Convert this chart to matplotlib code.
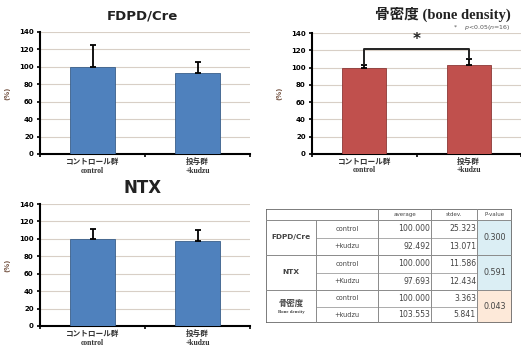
import matplotlib
matplotlib.use('Agg')
import matplotlib.pyplot as plt
from matplotlib.patches import Rectangle

plt.rcParams['font.family'] = ['DejaVu Sans', 'Noto Sans CJK JP']

# data
groups_jp = ['コントロール群', '投与群']
groups_en = ['control', '+kudzu']
fdpd_mean = [100.000, 92.492]
fdpd_sd = [25.323, 13.071]
ntx_mean = [100.000, 97.693]
ntx_sd = [11.586, 12.434]
bone_mean = [100.000, 103.553]
bone_sd = [3.363, 5.841]
p_values = [0.300, 0.591, 0.043]
table_groups = ['FDPD/Cre', 'NTX', '骨密度']
table_sub = [['control', '+kudzu'], ['control', '+Kudzu'], ['control', '+kudzu']]
yticks = [0, 20, 40, 60, 80, 100, 120, 140]

BLUE = '#4f81bd'
RED = '#c0504d'
JP = ['Noto Sans CJK JP']
SERIF = ['Liberation Serif', 'Noto Sans CJK JP']

fig = plt.figure(figsize=(5.21, 3.47), dpi=100)
W, H = 521, 347


def px_axes(l, t, r, b):
    return fig.add_axes([l / W, 1 - b / H, (r - l) / W, (b - t) / H])


def bar_panel(ax, means, sds, color, en_labels):
    x = range(len(means))
    ax.bar(x, means, width=0.42, color=color, edgecolor='#3a5f8a' if color == BLUE else '#8c3836',
           linewidth=0.6, zorder=3)
    ax.errorbar(x, means, yerr=[[0] * len(sds), sds], fmt='none', ecolor='black',
                elinewidth=1.3, capsize=2.5, capthick=1.3, zorder=4)
    ax.set_xlim(-0.5, 1.5)
    ax.set_ylim(0, 140)
    ax.set_yticks(yticks)
    ax.set_yticklabels([str(v) for v in yticks], fontsize=5, fontweight='bold', color='#333333')
    ax.yaxis.grid(True, color='#d8cfc6', linewidth=0.8, zorder=0)
    ax.set_xticks([-0.5, 0.5, 1.5])
    ax.set_xticklabels([])
    ax.tick_params(axis='both', direction='out', length=2.5, width=1.2, colors='black', pad=2)
    for s in ['top', 'right']:
        ax.spines[s].set_visible(False)
    for s in ['left', 'bottom']:
        ax.spines[s].set_linewidth(1.5)
    ax.set_ylabel('(%)', fontsize=5, color='#7a5a4a', fontweight='bold', labelpad=6)
    for i in x:
        ax.text(i, -9, groups_jp[i], ha='center', va='center', fontsize=5.5,
                family=JP, fontweight='bold', color='#333333', clip_on=False)
        ax.text(i, -19, en_labels[i], ha='center', va='center', fontsize=5.5,
                family=SERIF, fontweight='bold', color='#333333', clip_on=False)


ax1 = px_axes(40, 32, 250, 154)
bar_panel(ax1, fdpd_mean, fdpd_sd, BLUE, groups_en)
fig.text(142 / W, 1 - 16 / H, 'FDPD/Cre', ha='center', va='center', fontsize=9.5,
         fontweight='bold', color='#222222')

ax2 = px_axes(312, 33, 521, 154)
bar_panel(ax2, bone_mean, bone_sd, RED, groups_en)
fig.text(443 / W, 1 - 14 / H, '骨密度 (bone density)', ha='center', va='center', fontsize=10.5,
         fontweight='bold', family=SERIF, color='#222222')
fig.text(453 / W, 1 - 27 / H, '*    $p$<0.05($n$=16)', ha='left', va='center', fontsize=4.5,
         color='#555555')
# significance bracket
ax2.plot([0, 0, 1, 1], [bone_mean[0] + bone_sd[0] + 1, 121.5, 121.5, bone_mean[1] + bone_sd[1] + 2],
         color='#222222', linewidth=1.4, zorder=5)
ax2.text(0.5, 124, '*', ha='center', va='bottom', fontsize=11, fontweight='bold', color='#222222')

ax3 = px_axes(40, 204, 250, 326)
bar_panel(ax3, ntx_mean, ntx_sd, BLUE, ['control', '+kudzu'])
fig.text(143 / W, 1 - 188 / H, 'NTX', ha='center', va='center', fontsize=12,
         fontweight='bold', color='#222222')

# summary table
tax = px_axes(266, 209, 512, 323)
tax.set_xlim(0, 246)
tax.set_ylim(114, 0)
tax.axis('off')
col_edges = [0, 50, 112, 165, 211, 246]
row_edges = [0, 11, 28.5, 46, 63.5, 81, 97.5, 114]
tc = '#444444'
lc = '#8a8a8a'
fs = 4.8

all_means = [fdpd_mean, ntx_mean, bone_mean]
all_sds = [fdpd_sd, ntx_sd, bone_sd]
pcolors = ['#dbeef4', '#dbeef4', '#fde9d9']

for g in range(3):
    top = row_edges[1 + 2 * g]
    mid = row_edges[2 + 2 * g]
    bot = row_edges[3 + 2 * g]
    tax.add_patch(Rectangle((col_edges[4], top), col_edges[5] - col_edges[4], bot - top,
                            facecolor=pcolors[g], edgecolor='none'))
    if g < 2:
        tax.text((col_edges[0] + col_edges[1]) / 2, (top + bot) / 2, table_groups[g],
                 ha='center', va='center', fontsize=5.3, color=tc, fontweight='bold')
    else:
        tax.text((col_edges[0] + col_edges[1]) / 2, (top + bot) / 2 - 3, table_groups[g],
                 ha='center', va='center', fontsize=6, color=tc, family=JP, fontweight='bold')
        tax.text((col_edges[0] + col_edges[1]) / 2, (top + bot) / 2 + 5, 'Bone density',
                 ha='center', va='center', fontsize=3.5, color=tc, family=SERIF, fontweight='bold')
    for k, (ya, yb) in enumerate([(top, mid), (mid, bot)]):
        yc = (ya + yb) / 2
        tax.text((col_edges[1] + col_edges[2]) / 2, yc, table_sub[g][k], ha='center', va='center',
                 fontsize=fs, color=tc)
        tax.text(col_edges[3] - 1, yc, '%.3f' % all_means[g][k], ha='right', va='center',
                 fontsize=fs + 0.8, color=tc)
        tax.text(col_edges[4] - 1, yc, '%.3f' % all_sds[g][k], ha='right', va='center',
                 fontsize=fs + 0.8, color=tc)
    tax.text((col_edges[4] + col_edges[5]) / 2, (top + bot) / 2, '%.3f' % p_values[g],
             ha='center', va='center', fontsize=fs + 1, color=tc)

headers = ['average', 'stdev.', 'P-value']
for j, h in enumerate(headers):
    tax.text((col_edges[2 + j] + col_edges[3 + j]) / 2, row_edges[1] / 2, h, ha='center',
             va='center', fontsize=4, color=tc)

# grid lines
for y in row_edges[1:-1]:
    idx = row_edges.index(y)
    if idx in (2, 4, 6):
        tax.plot([col_edges[1], col_edges[4]], [y, y], color=lc, linewidth=0.5)
    else:
        tax.plot([0, 246], [y, y], color=lc, linewidth=0.7)
for x in col_edges[1:-1]:
    y0 = 0 if x != col_edges[1] else row_edges[1]
    tax.plot([x, x], [y0, 114], color=lc, linewidth=0.7)
tax.add_patch(Rectangle((0, 0), 246, 114, facecolor='none', edgecolor='#666666', linewidth=1.2))

fig.savefig('out.png', dpi=100)
